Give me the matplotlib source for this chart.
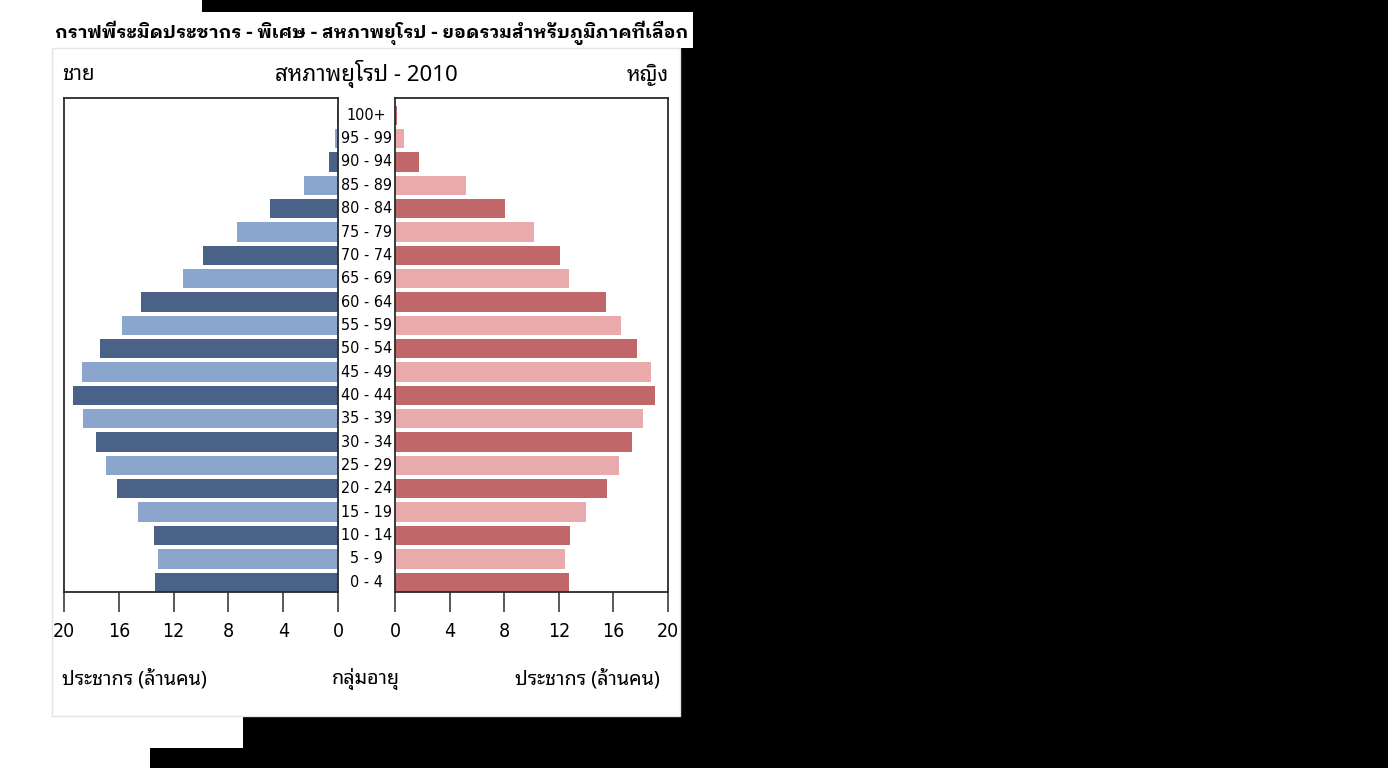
import matplotlib
matplotlib.use("Agg")
import matplotlib.pyplot as plt
import matplotlib.transforms as mtransforms
from matplotlib.patches import Polygon, Rectangle

# ---------------- data ----------------
age_groups = ["0 - 4", "5 - 9", "10 - 14", "15 - 19", "20 - 24", "25 - 29", "30 - 34",
              "35 - 39", "40 - 44", "45 - 49", "50 - 54", "55 - 59", "60 - 64", "65 - 69",
              "70 - 74", "75 - 79", "80 - 84", "85 - 89", "90 - 94", "95 - 99", "100+"]
male = [13.36, 13.16, 13.45, 14.6, 16.15, 16.96, 17.7, 18.64, 19.32, 18.7, 17.37,
        15.77, 14.35, 11.28, 9.85, 7.37, 4.93, 2.49, 0.67, 0.25, 0.05]
female = [12.72, 12.48, 12.82, 14.01, 15.53, 16.43, 17.33, 18.19, 19.05, 18.75, 17.7,
          16.58, 15.46, 12.72, 12.1, 10.2, 8.08, 5.23, 1.77, 0.63, 0.12]
x_ticks = [0, 4, 8, 12, 16, 20]

title = "กราฟพีระมิดประชากร - พิเศษ - สหภาพยุโรป - ยอดรวมสำหรับภูมิภาคที่เลือก"
subtitle = "สหภาพยุโรป - 2010"
male_label = "ชาย"
female_label = "หญิง"
x_label = "ประชากร (ล้านคน)"
y_label = "กลุ่มอายุ"

# ---------------- style ----------------
W, H = 1388, 768
THAI = ["Noto Sans Thai Looped", "Noto Sans Thai", "DejaVu Sans"]
THAI_BOLD = ["IBM Plex Sans Thai Looped", "Noto Sans Thai Looped", "DejaVu Sans"]
NUM = ["DejaVu Sans"]
male_dark, male_light = "#4a6288", "#8aa6cc"
female_dark, female_light = "#c0676a", "#e8aaab"
spine_col = "#2b2b2b"

fig = plt.figure(figsize=(W / 100, H / 100), dpi=100)
fig.patch.set_facecolor("white")


def fx(px):
    return px / W


def fy(py):
    return 1 - py / H


# black masking regions around the white card
mask = Polygon([(fx(202), fy(0)), (fx(W), fy(0)), (fx(W), fy(H)), (fx(150), fy(H)),
                (fx(150), fy(748)), (fx(243), fy(748)), (fx(243), fy(716)),
                (fx(680), fy(716)), (fx(680), fy(48)), (fx(693), fy(48)),
                (fx(693), fy(12)), (fx(202), fy(12))],
               closed=True, transform=fig.transFigure, facecolor="black",
               edgecolor="none", zorder=-3)
fig.patches.append(mask)
card = Rectangle((fx(52), fy(716)), fx(680) - fx(52), fy(48) - fy(716),
                 transform=fig.transFigure, facecolor="white", edgecolor="#e4e4e4",
                 linewidth=1.0, zorder=-2)
fig.patches.append(card)

renderer = fig.canvas.get_renderer()


def fit_size(s, target_w, fam, **kw):
    t = fig.text(0, 0, s, family=fam, fontsize=20, **kw)
    w = t.get_window_extent(renderer).width
    t.remove()
    return 20 * target_w / w


def fit_text(x, y, s, target_w, fam, **kw):
    size = fit_size(s, target_w, fam, **kw)
    return fig.text(x, y, s, family=fam, fontsize=size, **kw)


# axes
top_px, bot_px = 98, 592
axL = fig.add_axes([fx(64), fy(bot_px), fx(338) - fx(64), (bot_px - top_px) / H], zorder=2)
axR = fig.add_axes([fx(395), fy(bot_px), fx(668) - fx(395), (bot_px - top_px) / H], zorder=2)

pos = list(range(len(age_groups)))
mcols = [male_dark if i % 2 == 0 else male_light for i in pos]
fcols = [female_dark if i % 2 == 0 else female_light for i in pos]
axL.barh(pos, male, height=0.83, color=mcols, zorder=2)
axR.barh(pos, female, height=0.83, color=fcols, zorder=2)

axL.set_xlim(20, 0)
axR.set_xlim(0, 20)
for ax in (axL, axR):
    ax.set_ylim(-0.42, 20.74)
    ax.set_yticks([])
    ax.set_xticks(x_ticks)
    ax.set_xticklabels([str(v) for v in x_ticks], family=NUM, stretch="condensed",
                       fontsize=14)
    ax.tick_params(axis="x", direction="out", length=14.5, width=1.1, pad=7,
                   colors=spine_col, labelcolor="black")
    for sp in ax.spines.values():
        sp.set_color(spine_col)
        sp.set_linewidth(1.3)
    ax.set_facecolor("white")

# age group labels between panels
age_fs = fit_size("95 - 99", 51, NUM, stretch="condensed")
tr = mtransforms.blended_transform_factory(fig.transFigure, axL.transData)
for i, g in enumerate(age_groups):
    fig.text(fx(366.5), i, g, transform=tr, ha="center", va="center",
             family=NUM, stretch="condensed", fontsize=age_fs, color="black")

# texts
fit_text(fx(55), fy(33), title, 636, THAI_BOLD, fontweight="bold", ha="left", va="center")
st = fit_text(fx(366), fy(74), subtitle, 183, THAI, ha="center", va="center")
fs = st.get_fontsize()
fig.text(fx(62), fy(75), male_label, family=THAI, fontsize=fs * 0.92, ha="left", va="center")
fig.text(fx(669), fy(75), female_label, family=THAI, fontsize=fs * 0.92, ha="right", va="center")
xl = fit_text(fx(62), fy(679), x_label, 145, THAI, ha="left", va="center")
fs2 = xl.get_fontsize()
fig.text(fx(660), fy(679), x_label, family=THAI, fontsize=fs2, ha="right", va="center")
fig.text(fx(366), fy(679), y_label, family=THAI, fontsize=fs2, ha="center", va="center")

fig.savefig("out.png", dpi=100, facecolor="white")
